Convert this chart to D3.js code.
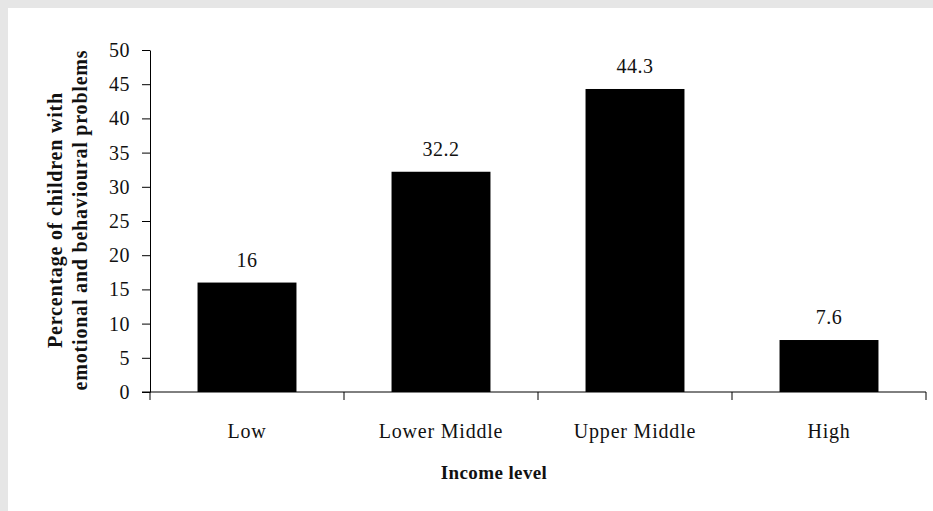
<!DOCTYPE html>
<html>
<head>
<meta charset="utf-8">
<script src="https://cdn.jsdelivr.net/npm/d3@7"></script>
<style>
  body { margin: 0; background: #e6e6e6; }
  svg { display: block; }
  text { font-family: "Liberation Serif", "DejaVu Serif", serif; fill: #111; }
</style>
</head>
<body>
<script>
// data
var categories = ["Low", "Lower Middle", "Upper Middle", "High"];
var values = [16, 32.2, 44.3, 7.6];
var valueLabels = ["16", "32.2", "44.3", "7.6"];
var yTicks = [0, 5, 10, 15, 20, 25, 30, 35, 40, 45, 50];

var width = 933, height = 511;

var svg = d3.select("body").append("svg")
    .attr("width", width)
    .attr("height", height);

// white panel, gray strip top + left
svg.append("rect")
    .attr("x", 8).attr("y", 8)
    .attr("width", width - 8).attr("height", height - 8)
    .attr("fill", "#fff");

var x = d3.scaleBand()
    .domain(categories)
    .range([150, 926])
    .paddingInner(0.49)
    .paddingOuter(0.245);

var y = d3.scaleLinear()
    .domain([0, 50])
    .range([392, 50]);

// y axis
var yAxis = svg.append("g")
    .attr("transform", "translate(150,0)")
    .call(d3.axisLeft(y).tickValues(yTicks).tickSize(8).tickSizeOuter(0).tickPadding(12));
yAxis.select(".domain").attr("stroke", "#000");
yAxis.selectAll(".tick line").attr("stroke", "#000");
yAxis.selectAll(".tick text")
    .attr("font-size", 20)
    .attr("letter-spacing", 0.5)
    .attr("fill", "#222");

// bars
svg.selectAll(".bar")
    .data(values)
    .enter()
    .append("rect")
    .attr("class", "bar")
    .attr("x", function(d, i) { return x(categories[i]); })
    .attr("y", function(d) { return y(d); })
    .attr("width", x.bandwidth())
    .attr("height", function(d) { return y(0) - y(d); })
    .attr("fill", "#000");

// value labels
svg.selectAll(".vlabel")
    .data(values)
    .enter()
    .append("text")
    .attr("class", "vlabel")
    .attr("x", function(d, i) { return x(categories[i]) + x.bandwidth() / 2; })
    .attr("y", function(d) { return y(d) - 16; })
    .attr("text-anchor", "middle")
    .attr("font-size", 20)
    .attr("letter-spacing", 0.5)
    .text(function(d, i) { return valueLabels[i]; });

// x axis line, starts a bit left of the y axis
var x0 = x.range()[0], x1 = x.range()[1];
svg.append("line")
    .attr("x1", 142).attr("x2", x1)
    .attr("y1", y(0)).attr("y2", y(0))
    .attr("stroke", "#000");

// category boundary ticks
var bounds = d3.range(categories.length + 1).map(function(i) { return x0 + i * x.step(); });
svg.selectAll(".xtick")
    .data(bounds)
    .enter()
    .append("line")
    .attr("x1", function(d) { return d; })
    .attr("x2", function(d) { return d; })
    .attr("y1", y(0))
    .attr("y2", y(0) + 8)
    .attr("stroke", "#000");

// category labels
svg.selectAll(".clabel")
    .data(categories)
    .enter()
    .append("text")
    .attr("class", "clabel")
    .attr("x", function(d) { return x(d) + x.bandwidth() / 2; })
    .attr("y", 438)
    .attr("text-anchor", "middle")
    .attr("font-size", 20)
    .attr("letter-spacing", 0.8)
    .attr("fill", "#222")
    .text(function(d) { return d; });

// axis titles
svg.append("text")
    .attr("x", 494).attr("y", 479)
    .attr("text-anchor", "middle")
    .attr("font-size", 19)
    .attr("letter-spacing", 0.4)
    .attr("font-weight", "bold")
    .text("Income level");

var yTitle = svg.append("text")
    .attr("transform", "translate(0,220) rotate(-90)")
    .attr("text-anchor", "middle")
    .attr("font-size", 20)
    .attr("letter-spacing", 0.8)
    .attr("font-weight", "bold");
yTitle.append("tspan").attr("x", 0).attr("y", 62).text("Percentage of children with");
yTitle.append("tspan").attr("x", 0).attr("y", 87).text("emotional and behavioural problems");
</script>
</body>
</html>
